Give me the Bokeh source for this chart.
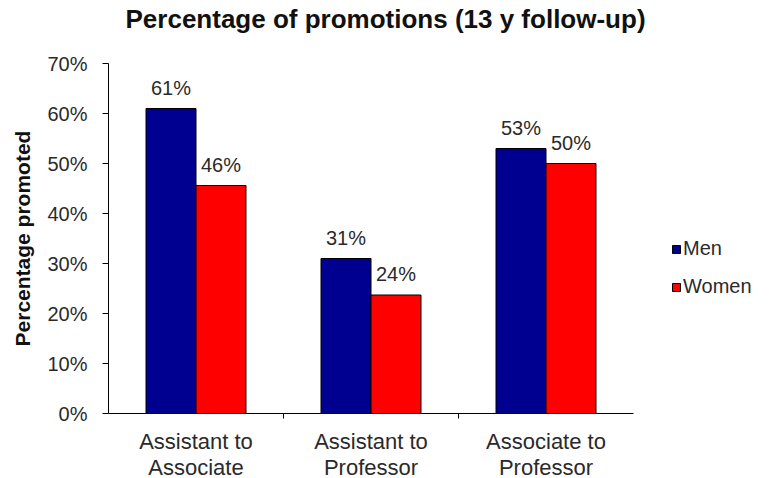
import numpy as np
from bokeh.plotting import figure
from bokeh.models import ColumnDataSource, FixedTicker, Legend, LegendItem, Range1d
from bokeh.transform import dodge
from bokeh.core.properties import value
from bokeh.embed import file_html
from bokeh.resources import INLINE

categories = ["Assistant to\nAssociate", "Assistant to\nProfessor", "Associate to\nProfessor"]
men = [61, 31, 53]
women = [45.6, 23.7, 50]
y_ticks = [0, 10, 20, 30, 40, 50, 60, 70]
series_names = ["Men", "Women"]
title_text = "Percentage of promotions (13 y follow-up)"

FONT = "Liberation Sans"
TXT = "#2a2a2a"
FW, FH = 525, 350

x = np.arange(len(categories)) + 0.5
src = ColumnDataSource(dict(
    x=x, men=men, women=women,
    men_lbl=[f"{round(v)}%" for v in men],
    women_lbl=[f"{round(v)}%" for v in women],
))

p = figure(frame_width=FW, frame_height=FH, output_backend="svg", toolbar_location=None,
           x_range=Range1d(0, len(categories)), y_range=Range1d(0, 70),
           min_border_left=108, min_border_right=136, min_border_top=63, min_border_bottom=65)

bw = 0.2857
r_men = p.vbar(x=dodge("x", -bw / 2), top="men", width=bw, source=src,
               fill_color="#000090", line_color="black", line_width=1)
r_women = p.vbar(x=dodge("x", bw / 2), top="women", width=bw, source=src,
                 fill_color="#FF0000", line_color="black", line_width=1)

p.text(x=dodge("x", -bw / 2), y="men", text="men_lbl", source=src,
       text_align="center", text_baseline="middle", y_offset=-21,
       text_font=value(FONT), text_font_size="20px", text_color=TXT)
p.text(x=dodge("x", bw / 2), y="women", text="women_lbl", source=src,
       text_align="center", text_baseline="middle", y_offset=-21,
       text_font=value(FONT), text_font_size="20px", text_color=TXT)

# title (a blank second line lifts it well above the frame)
p.title.text = title_text + "\n "
p.title.text_font = FONT
p.title.text_font_size = "26px"
p.title.text_font_style = "bold"
p.title.text_color = "#111111"
p.title.text_line_height = 1.0
p.title.align = "left"
p.title.offset = 17
p.title.standoff = 0

# axes
p.grid.visible = False
p.outline_line_color = None

p.yaxis.ticker = FixedTicker(ticks=y_ticks)
p.yaxis.major_label_overrides = {v: f"{v}%" for v in y_ticks}
p.yaxis.major_label_text_font = FONT
p.yaxis.major_label_text_font_size = "20px"
p.yaxis.major_label_text_color = TXT
p.yaxis.major_tick_in = 0
p.yaxis.major_tick_out = 6
p.yaxis.minor_tick_line_color = None
p.yaxis.major_label_standoff = 15
p.yaxis.axis_line_color = "black"
p.yaxis.major_tick_line_color = "black"
p.yaxis.axis_label = "Percentage promoted"
p.yaxis.axis_label_text_font = FONT
p.yaxis.axis_label_text_font_size = "21px"
p.yaxis.axis_label_text_font_style = "bold"
p.yaxis.axis_label_text_color = "#111111"
p.yaxis.axis_label_standoff = 10

bounds = list(np.arange(1, len(categories)))
p.xaxis.ticker = FixedTicker(ticks=list(x), minor_ticks=bounds)
p.xaxis.major_label_overrides = {float(xx): c for xx, c in zip(x, categories)}
p.xaxis.major_label_text_font = FONT
p.xaxis.major_label_text_font_size = "22px"
p.xaxis.major_label_text_line_height = 1.05
p.xaxis.major_label_text_color = TXT
p.xaxis.major_tick_line_color = None
p.xaxis.minor_tick_line_color = "black"
p.xaxis.minor_tick_in = 0
p.xaxis.minor_tick_out = 5
p.xaxis.major_label_standoff = 9
p.xaxis.axis_line_color = "black"

legend = Legend(items=[LegendItem(label=series_names[0], renderers=[r_men]),
                       LegendItem(label=series_names[1], renderers=[r_women])],
                glyph_width=10, glyph_height=10, label_text_font=FONT,
                label_text_font_size="20px", label_text_color=TXT,
                spacing=15, border_line_color=None, background_fill_alpha=0,
                padding=0, margin=0, label_standoff=2, location=(38, 115))
p.add_layout(legend, "right")

open("out.html", "w").write(file_html(p, INLINE))
